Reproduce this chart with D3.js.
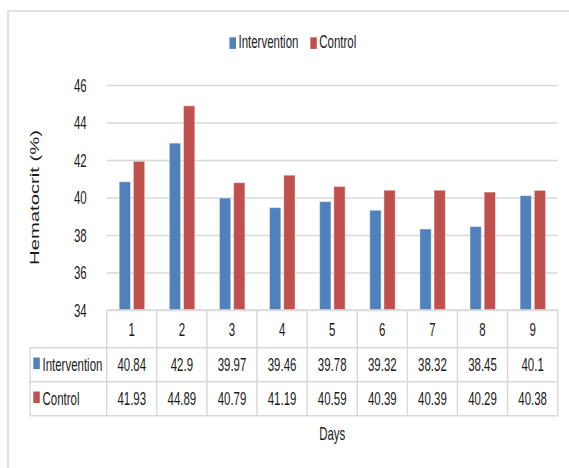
<!DOCTYPE html>
<html><head><meta charset="utf-8">
<script src="https://cdn.jsdelivr.net/npm/d3@7"></script>
<style>
html,body{margin:0;padding:0;background:#fff;}
svg{display:block;}
text{font-family:'Liberation Sans',Arial,sans-serif;fill:#1a1a1a;}
</style></head>
<body>
<svg id="chart" width="569" height="468"></svg>
<script>
const days = ['1','2','3','4','5','6','7','8','9'];
const seriesNames = ['Intervention','Control'];
const intervention = [40.84,42.9,39.97,39.46,39.78,39.32,38.32,38.45,40.1];
const control = [41.93,44.89,40.79,41.19,40.59,40.39,40.39,40.29,40.38];
const yTicks = [34,36,38,40,42,44,46];
const colors = ['#4f81bd','#c0504d'];
const yTitle = 'Hematocrit (%)';
const xTitle = 'Days';

const SX = 0.82, SY = 1.25;   // narrow, vertically stretched lettering of the original
const FS = 14;
const grid = '#d9d9d9';
const svg = d3.select('#chart');

const pLeft = 106.7, pRight = 557.7, pTop = 85, pBottom = 310;
const x = d3.scaleBand().domain(days).range([pLeft, pRight]).padding(0);
const xs = d3.scaleBand().domain(seriesNames).range([12.5, 38]).paddingInner(0.2);
const y = d3.scaleLinear().domain([34, 46]).range([pBottom, pTop]);
const values = [intervention, control];

// outer frame
svg.append('path').attr('d', 'M8,469 L8,11 L570,11').attr('fill','none')
  .attr('stroke', grid).attr('stroke-width', 1.5);

function txt(g, xp, yp, s, anchor, size) {
  return g.append('text')
    .attr('transform', `translate(${xp},${yp}) scale(${SX},${SY})`)
    .attr('text-anchor', anchor).attr('font-size', size || FS).text(s);
}

// gridlines
const gridAxis = d3.axisLeft(y).tickValues(yTicks).tickSize(-(pRight-pLeft)).tickFormat('');
const gg = svg.append('g').attr('transform', `translate(${pLeft},0)`).call(gridAxis);
gg.select('.domain').remove();
gg.selectAll('line').attr('stroke', grid).attr('stroke-width', 1.5);

// y labels
const yAxis = d3.axisLeft(y).tickValues(yTicks).tickSize(0).tickPadding(0);
const ya = svg.append('g').attr('transform', `translate(${pLeft - 20},0)`).call(yAxis);
ya.select('.domain').remove();
ya.selectAll('text').attr('font-size', FS).attr('fill','#1a1a1a').attr('x', 0)
  .attr('font-family', "'Liberation Sans',Arial,sans-serif")
  .attr('dy', '0.36em').attr('transform', `scale(${SX},${SY})`);

// bars
const groups = svg.append('g').selectAll('g').data(days).join('g')
  .attr('transform', d => `translate(${x(d)},0)`);
groups.selectAll('rect').data((d, i) => seriesNames.map((s, k) => ({s, k, v: values[k][i]})))
  .join('rect')
  .attr('x', d => xs(d.s)).attr('width', xs.bandwidth())
  .attr('y', d => y(d.v)).attr('height', d => y(34) - y(d.v))
  .attr('fill', d => colors[d.k])
  .attr('stroke', 'rgba(255,255,255,0.45)').attr('stroke-width', 1);

// legend
const legendItems = [{s:'Intervention', x:229.5}, {s:'Control', x:310.3}];
legendItems.forEach((it, k) => {
  svg.append('rect').attr('x', it.x).attr('y', 37.3).attr('width', 6.5).attr('height', 11.6).attr('fill', colors[k]);
  txt(svg, it.x + 9, 48.3, it.s, 'start', FS);
});

// y title (fit to the reference's length)
const yt = svg.append('text')
  .attr('text-anchor','middle')
  .attr('font-family', "'DejaVu Sans',Verdana,sans-serif")
  .attr('font-size', 13.5).text(yTitle);
const L = yt.node().getComputedTextLength();
yt.attr('transform', `translate(38.5,197.5) scale(1,${135 / L}) rotate(-90)`);

// data table
const rowTop = pBottom, hdrBot = 347.7, r1Bot = 381.7, r2Bot = 415.7, keyLeft = 30;
const tbl = svg.append('g').attr('stroke', grid).attr('stroke-width', 1.5);
tbl.append('line').attr('x1', pLeft).attr('x2', pRight).attr('y1', rowTop).attr('y2', rowTop);
[hdrBot, r1Bot, r2Bot].forEach(yy => tbl.append('line').attr('x1', keyLeft).attr('x2', pRight).attr('y1', yy).attr('y2', yy));
tbl.append('line').attr('x1', keyLeft).attr('x2', keyLeft).attr('y1', hdrBot).attr('y2', r2Bot);
tbl.selectAll('line.v').data(days.map(d => x(d)).concat([pRight])).join('line').attr('class','v')
  .attr('x1', d => d).attr('x2', d => d).attr('y1', rowTop).attr('y2', r2Bot);

const tg = svg.append('g');
days.forEach(d => txt(tg, x(d) + x.bandwidth()/2, 335.5, d, 'middle', FS));
const rowBase = [370.5, 404.5];
values.forEach((vals, k) => {
  vals.forEach((v, i) => txt(tg, x(days[i]) + x.bandwidth()/2, rowBase[k], String(v), 'middle', FS));
  tg.append('rect').attr('x', 33.3).attr('y', rowBase[k] - 13).attr('width', 6.5).attr('height', 11.6).attr('fill', colors[k]);
  txt(tg, 42.5, rowBase[k], seriesNames[k], 'start', FS);
});

// x title
txt(svg, (pLeft + pRight)/2, 439.5, xTitle, 'middle', FS);
</script>
</body></html>
